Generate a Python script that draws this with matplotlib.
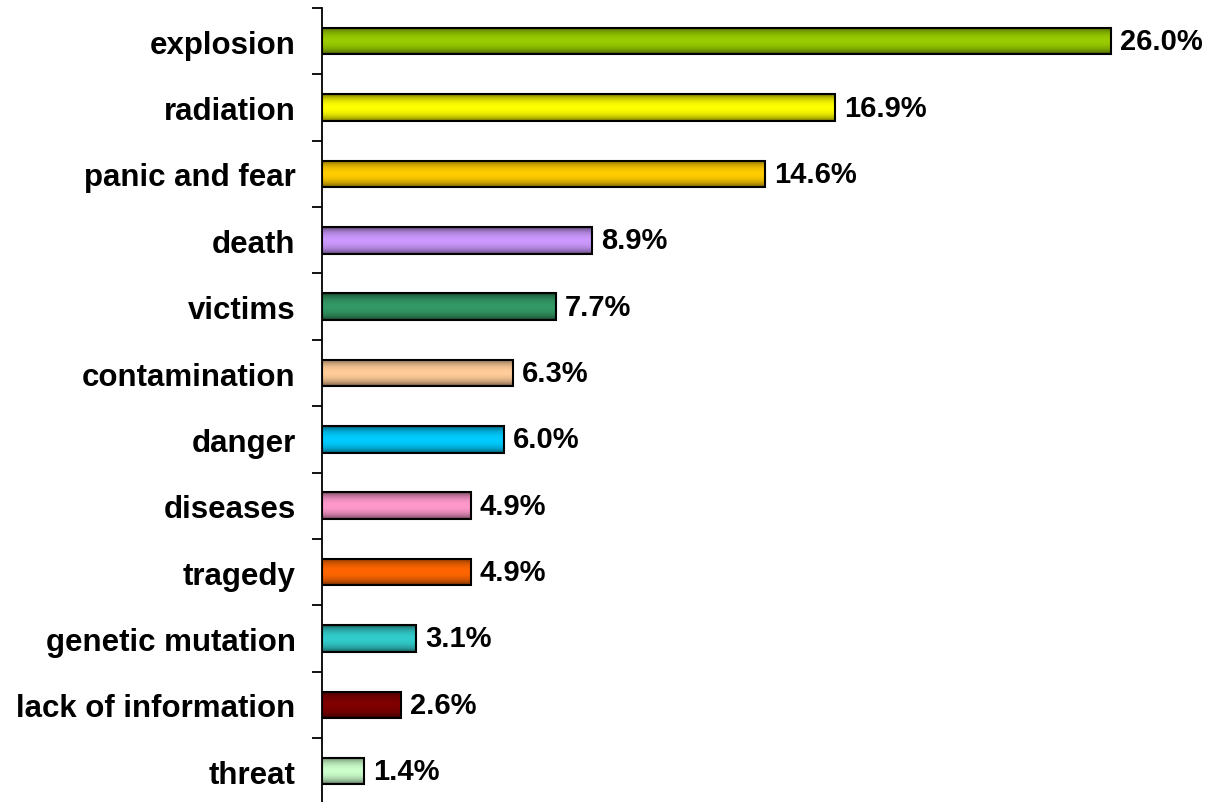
import numpy as np
import matplotlib.pyplot as plt
from matplotlib.colors import to_rgb

# chart data
categories = ['explosion', 'radiation', 'panic and fear', 'death', 'victims',
              'contamination', 'danger', 'diseases', 'tragedy',
              'genetic mutation', 'lack of information', 'threat']
values = [26.0, 16.9, 14.6, 8.9, 7.7, 6.3, 6.0, 4.9, 4.9, 3.1, 2.6, 1.4]
bar_colors = ['#99CC00', '#FFFF00', '#FFCC00', '#CC99FF', '#339966', '#FFCC99',
              '#00CCFF', '#FF99CC', '#FF6600', '#33CCCC', '#800000', '#CCFFCC']

plt.rcParams['font.family'] = ['Liberation Sans', 'DejaVu Sans']

fig = plt.figure(figsize=(12.09, 8.03), dpi=100)
ax = fig.add_axes([0.2663, -0.003, 0.7337, 0.9918])

bar_h = 0.4
y = np.arange(len(categories))

# vertical shading to mimic the cylinder-like gradient of the original bars
t = np.linspace(0, 1, 64)
shade = 0.3 + 0.7 * np.sin(np.pi * t) ** 0.5

for yi, v, c in zip(y, values, bar_colors):
    rgb = np.array(to_rgb(c))
    img = (shade[:, None, None] * rgb[None, None, :]).repeat(2, axis=1)
    ax.imshow(img, extent=(0, v, yi + bar_h / 2, yi - bar_h / 2),
              aspect='auto', interpolation='bilinear', zorder=2)
    ax.barh(yi, v, height=bar_h, fill=False, edgecolor='black',
            linewidth=1.5, zorder=3)
    ax.text(v + 0.3, yi, f'{v:.1f}%', va='center', ha='left',
            fontsize=21, fontweight='bold', zorder=4)

ax.set_xlim(0, 29.23)
ax.set_ylim(len(categories) - 0.5, -0.5)

# boundary ticks (major) and category labels (minor)
ax.set_yticks(np.arange(len(categories) + 1) - 0.5)
ax.set_yticklabels([])
ax.set_yticks(y, minor=True)
ax.set_yticklabels(categories, minor=True, fontsize=22.5, fontweight='bold')
ax.tick_params(axis='y', which='major', direction='out', length=7, width=1.3)
ax.tick_params(axis='y', which='minor', length=0, pad=19)
ax.set_xticks([])

for side in ['top', 'right', 'bottom']:
    ax.spines[side].set_visible(False)
ax.spines['left'].set_linewidth(1.3)

plt.savefig('out.png', dpi=100)
